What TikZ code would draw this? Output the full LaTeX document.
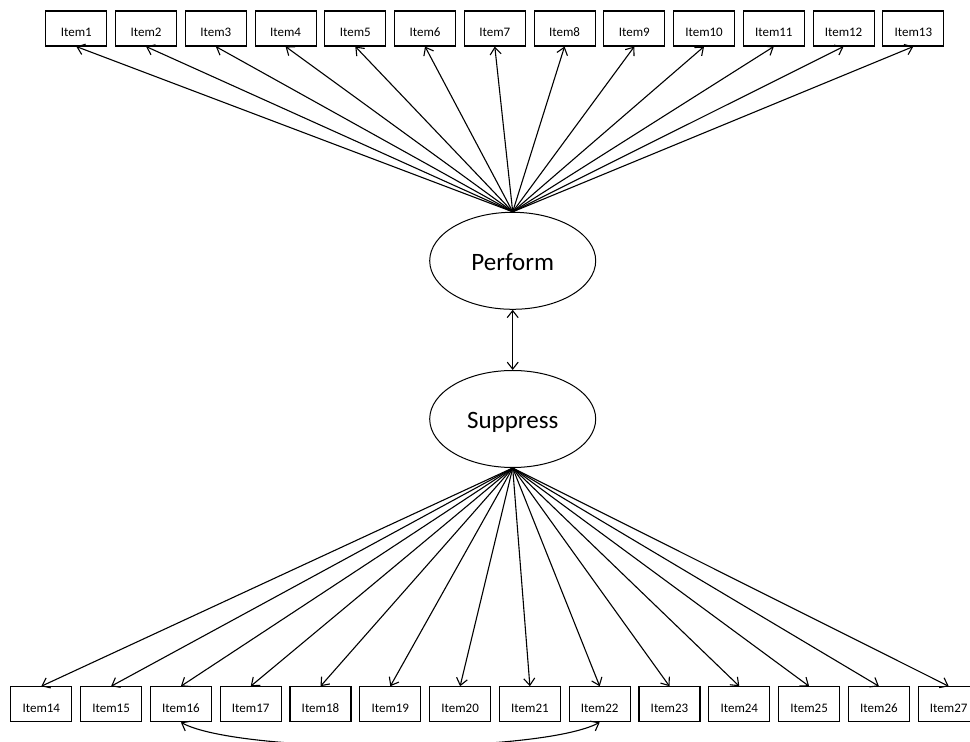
\documentclass[tikz,border=0pt]{standalone}
\usepackage{fontspec}
\setmainfont{Carlito}
\usetikzlibrary{arrows.meta,shapes.geometric}
\begin{document}
\begin{tikzpicture}[x=1pt,y=1pt,
  item/.style={draw,line width=1.1pt,minimum width=61pt,minimum height=35pt,inner sep=0pt,text height=17pt,text depth=0pt,font=\fontsize{13}{15}\selectfont},
  latent/.style={draw,ellipse,line width=1pt,minimum width=166pt,minimum height=97pt,inner sep=0pt,text height=20pt,text depth=0pt,font=\fontsize{25}{30}\selectfont},
  load/.style={line width=1.1pt,-{Straight Barb[length=7pt,width=11pt,line width=1.1pt]}},
  cov/.style={line width=1.1pt,{Straight Barb[length=7pt,width=11pt,line width=1.1pt]}-{Straight Barb[length=7pt,width=11pt,line width=1.1pt]}}]
\useasboundingbox (0,0) rectangle (970,742);
\node[latent] (perf) at (512.7,481.2) {Perform};
\node[latent] (supp) at (512.7,323) {Suppress};
\foreach \i in {1,...,13} {
  \node[item] (it\i) at ({76.3+69.75*(\i-1)},713.5) {Item\i};
  \draw[load] (perf.north) -- (it\i.south);
}
\foreach \i in {14,...,27} {
  \node[item] (it\i) at ({41.3+69.8*(\i-14)},37.7) {Item\i};
  \draw[load] (supp.south) -- (it\i.north);
}
\draw[cov] (perf.south) -- (supp.north);
\draw[cov] (it16.south) .. controls +(59,-32) and +(-60,-32) .. (it22.south);
\end{tikzpicture}
\end{document}
